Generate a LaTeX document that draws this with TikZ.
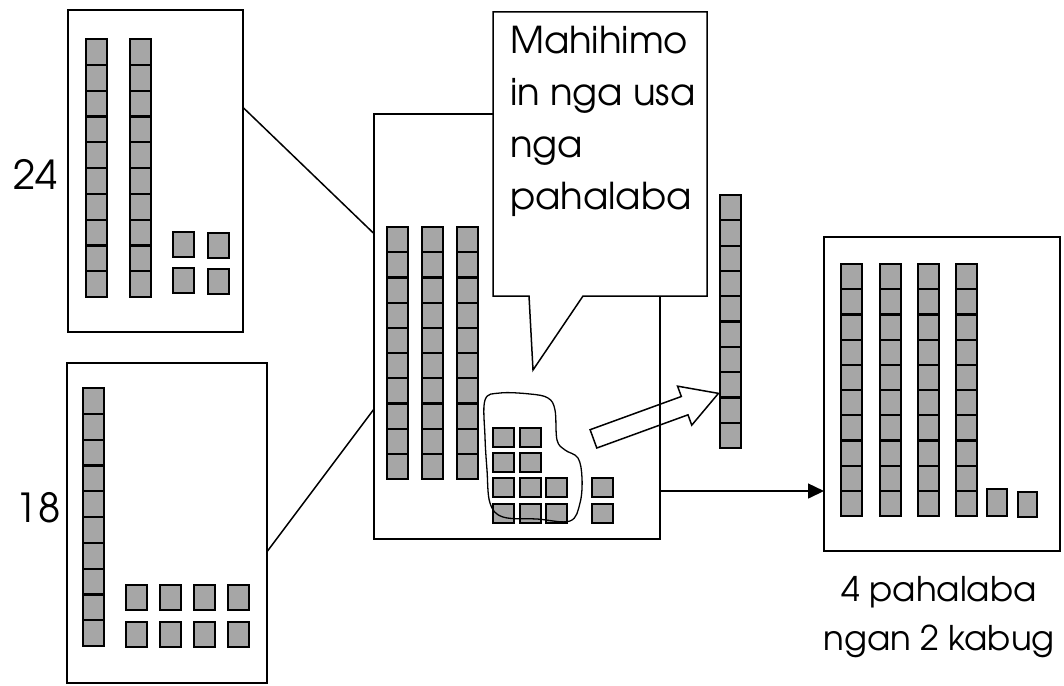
\documentclass[tikz,border=0pt]{standalone}
\usepackage{fontspec}
\setmainfont{TeX Gyre Adventor}
\usetikzlibrary{positioning,shapes.callouts,shapes.arrows,arrows.meta}

\definecolor{blockgray}{RGB}{166,166,166}

% one rod of ten unit cubes: left x, top y, cell height
\newcommand{\tenrod}[3]{%
  \foreach \k in {0,...,9}
    \draw[cube] (#1,{#2+\k*#3}) rectangle ++(21,#3);
}

\begin{document}
\begin{tikzpicture}[x=1pt, y=-1pt,
    panel/.style={rectangle, draw, line width=1.5pt, outer sep=0pt, inner sep=0pt},
    cube/.style={draw, line width=2.2pt, fill=blockgray},
    numlabel/.style={font=\fontsize{40}{48}\selectfont, inner sep=0pt},
    link/.style={line width=1.5pt},
    arrow/.style={-{Triangle[length=16pt,width=15pt]}, line width=1.5pt}
]
    \useasboundingbox (0,0) rectangle (1064,685);

    % Panels
    \node[panel, minimum width=175pt, minimum height=322pt] (box24) at (155.5,171) {};
    \node[panel, minimum width=200pt, minimum height=320pt] (box18) at (167,523) {};
    \node[panel, minimum width=286pt, minimum height=425pt] (boxsum) at (517,326.5) {};
    \node[panel, minimum width=236pt, minimum height=314pt] (boxres) at (942,394) {};

    \node[numlabel] (n24) at (36,174) {24};
    \node[numlabel] (n18) at (38,508) {18};

    % 24
    \tenrod{86}{39}{25.8}
    \tenrod{130}{39}{25.8}
    \foreach \x/\y in {173/232, 208/233, 173/268, 208/269}
        \draw[cube] (\x,\y) rectangle ++(21,25);

    % 18
    \tenrod{83}{388}{25.8}
    \foreach \x in {126,160,194,228}
        \foreach \y in {585,622}
            \draw[cube] (\x,\y) rectangle ++(21,25);

    % sum
    \tenrod{387}{227}{25.2}
    \tenrod{422}{227}{25.2}
    \tenrod{457}{227}{25.2}
    \foreach \x/\y in {493/428, 520/428, 493/453, 520/453, 493/478, 520/478, 546/478,
                       493/504, 520/504, 546/504, 592/478, 592/504}
        \draw[cube] (\x,\y) rectangle ++(21,19);
    \draw[line width=1.3pt] plot[smooth cycle, tension=0.6] coordinates {
        (485,400) (500,393) (530,394) (548,398) (555,410) (557,440) (565,450)
        (578,458) (582,478) (580,503) (570,521) (537,519) (503,517) (490,503)
        (487,470) (485,437)};

    % new ten
    \tenrod{720}{195}{25.3}
    \node[draw, line width=1.5pt, single arrow, minimum height=133pt,
          inner xsep=0pt, inner ysep=9pt, single arrow head extend=11pt,
          single arrow tip angle=60, rotate=20] (push) at (648,419) {};

    % result
    \tenrod{841}{264}{25.2}
    \tenrod{880}{264}{25.2}
    \tenrod{918}{264}{25.2}
    \tenrod{956}{264}{25.2}
    \draw[cube] (987,489) rectangle ++(20,27);
    \draw[cube] (1018,492) rectangle ++(19,25);

    \node[below=25pt of boxres, xshift=-3pt, align=center, inner sep=0pt,
          font=\fontsize{34}{49}\selectfont] (caption) {4 pahalaba\\ngan 2 kabug};

    % callout
    \node[rectangle callout, draw, fill=white, line width=1.5pt, inner sep=0pt,
          minimum width=214pt, minimum height=284pt,
          callout absolute pointer={(533,370)}, callout pointer width=54pt,
          font=\fontsize{37}{52}\selectfont] (bubble) at (600,154)
        {\parbox[c][284pt][t]{196pt}{\raggedright\leftskip=8pt\vspace*{14pt}Mahihimo\\in nga usa\\nga\\pahalaba}};

    % connectors
    \draw[link] (box24.36) -- (boxsum.147);
    \draw[link] (box18.344) -- (boxsum.210);
    \draw[arrow] (boxsum.-49) -- (boxsum.-49 -| boxres.west);
\end{tikzpicture}
\end{document}
